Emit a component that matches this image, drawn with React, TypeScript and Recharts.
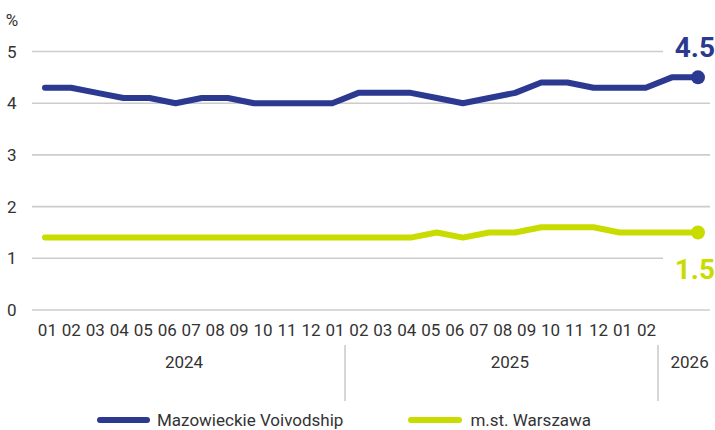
import React from 'react';
import { LineChart, Line, XAxis, YAxis, CartesianGrid, Legend } from 'recharts';

const FONT = 'Roboto, "Noto Sans", sans-serif';
const TEXT = '#333333';
const BLUE = '#2b3990';
const GREEN = '#c9dc00';
const GRID = '#cccccc';

const monthLabels = ['01', '02', '03', '04', '05', '06', '07', '08', '09', '10', '11', '12', '01', '02', '03', '04', '05', '06', '07', '08', '09', '10', '11', '12', '01', '02'];
const mazowieckie = [4.3, 4.3, 4.2, 4.1, 4.1, 4.0, 4.1, 4.1, 4.0, 4.0, 4.0, 4.0, 4.2, 4.2, 4.2, 4.1, 4.0, 4.1, 4.2, 4.4, 4.4, 4.3, 4.3, 4.3, 4.5, 4.5];
const warszawa = [1.4, 1.4, 1.4, 1.4, 1.4, 1.4, 1.4, 1.4, 1.4, 1.4, 1.4, 1.4, 1.4, 1.4, 1.4, 1.5, 1.4, 1.5, 1.5, 1.6, 1.6, 1.6, 1.5, 1.5, 1.5, 1.5];
const yearLabels = ['2024', '2025', '2026'];
const yearTicks = [5.7, 19.3, 26.8];
const separatorTicks = [12.42, 25.48];
const yTicks = [0, 1, 2, 3, 4, 5];
const seriesNames = ['Mazowieckie Voivodship', 'm.st. Warszawa'];

const data = monthLabels.map((m, i) => ({ i, month: m, mazowieckie: mazowieckie[i], warszawa: warszawa[i] }));
const LAST = data.length - 1;
const monthTickValues = data.map((d) => d.i);
const LABEL_DOMAIN: [number, number] = [-0.1, 27.15];
const PAD = { left: 13, right: 12 };

const makeDot = (color: string, key: string, below: boolean) => (props: any) => {
  const { cx, cy, index, payload } = props;
  if (index !== LAST || cx == null || cy == null) return <g key={`${key}-${index}`} />;
  const val = payload[key];
  return (
    <g key={`${key}-${index}`}>
      <rect x={cx - 35} y={below ? cy + 22 : cy - 46} width={60} height={30} fill="#ffffff" />
      <text
        x={cx + 17}
        y={below ? cy + 47 : cy - 20}
        textAnchor="end"
        fill={color}
        fontFamily={FONT}
        fontWeight={700}
        fontSize={28}
      >
        {val.toFixed(1)}
      </text>
      <circle cx={cx} cy={cy} r={7} fill={color} />
    </g>
  );
};

const LegendContent = () => (
  <div style={{ width: 715, height: 54, position: 'relative', fontFamily: FONT, fontSize: 17, color: TEXT }}>
    <div style={{ position: 'absolute', top: 33, left: 97, display: 'flex', alignItems: 'center', lineHeight: '22px' }}>
      <span style={{ display: 'inline-block', width: 53, height: 6, borderRadius: 3, background: BLUE, marginRight: 7 }} />
      <span style={{ marginRight: 65 }}>{seriesNames[0]}</span>
      <span style={{ display: 'inline-block', width: 54, height: 6, borderRadius: 3, background: GREEN, marginRight: 8 }} />
      <span>{seriesNames[1]}</span>
    </div>
  </div>
);

export default function App() {
  const tickStyle = { fill: TEXT, fontSize: 17, fontFamily: FONT };
  return (
    <div style={{ position: 'absolute', left: 0, top: 0, width: 715, height: 430, background: '#fff' }}>
      <LineChart
        width={715}
        height={430}
        data={data}
        margin={{ top: 51.5, right: 5, left: 0, bottom: 0 }}
        style={{ fontFamily: FONT }}
      >
        <CartesianGrid horizontal vertical={false} stroke={GRID} strokeWidth={1.6} xAxisId="data" />
        <XAxis
          xAxisId="data"
          dataKey="i"
          type="number"
          domain={[0, LAST]}
          padding={PAD}
          hide
          height={0}
        />
        <XAxis
          xAxisId="sep"
          dataKey="i"
          type="number"
          domain={LABEL_DOMAIN}
          allowDataOverflow
          padding={PAD}
          ticks={separatorTicks}
          interval={0}
          axisLine={false}
          tickLine={{ stroke: GRID, strokeWidth: 1.6 }}
          tickSize={56}
          tick={() => <g />}
          height={1}
        />
        <XAxis
          xAxisId="month"
          dataKey="i"
          type="number"
          domain={LABEL_DOMAIN}
          allowDataOverflow
          padding={PAD}
          ticks={monthTickValues}
          interval={0}
          axisLine={false}
          tickLine={false}
          tickMargin={8}
          tick={tickStyle}
          tickFormatter={(v: number) => monthLabels[Math.round(v)]}
          height={35}
        />
        <XAxis
          xAxisId="year"
          dataKey="i"
          type="number"
          domain={LABEL_DOMAIN}
          allowDataOverflow
          padding={PAD}
          ticks={yearTicks}
          interval={0}
          axisLine={false}
          tickLine={false}
          tickMargin={4}
          tick={tickStyle}
          tickFormatter={(v: number, idx: number) => yearLabels[idx]}
          height={30}
        />
        <YAxis
          domain={[0, 5]}
          ticks={yTicks}
          interval={0}
          axisLine={false}
          tickLine={false}
          tickMargin={9.5}
          width={32}
          tick={tickStyle}
          label={{
            content: (p: any) => (
              <text x={12} y={(p.viewBox?.y ?? 51.5) - 26} textAnchor="middle" fill={TEXT} fontSize={17} fontFamily={FONT}>
                %
              </text>
            ),
          }}
        />
        <Legend verticalAlign="bottom" content={<LegendContent />} wrapperStyle={{ left: 0, width: 715, height: 54 }} />
        <Line
          xAxisId="data"
          type="linear"
          dataKey="mazowieckie"
          name={seriesNames[0]}
          stroke={BLUE}
          strokeWidth={6}
          strokeLinecap="round"
          strokeLinejoin="round"
          dot={makeDot(BLUE, 'mazowieckie', false)}
          activeDot={false}
          isAnimationActive={false}
        />
        <Line
          xAxisId="data"
          type="linear"
          dataKey="warszawa"
          name={seriesNames[1]}
          stroke={GREEN}
          strokeWidth={6}
          strokeLinecap="round"
          strokeLinejoin="round"
          dot={makeDot(GREEN, 'warszawa', true)}
          activeDot={false}
          isAnimationActive={false}
        />
      </LineChart>
    </div>
  );
}
